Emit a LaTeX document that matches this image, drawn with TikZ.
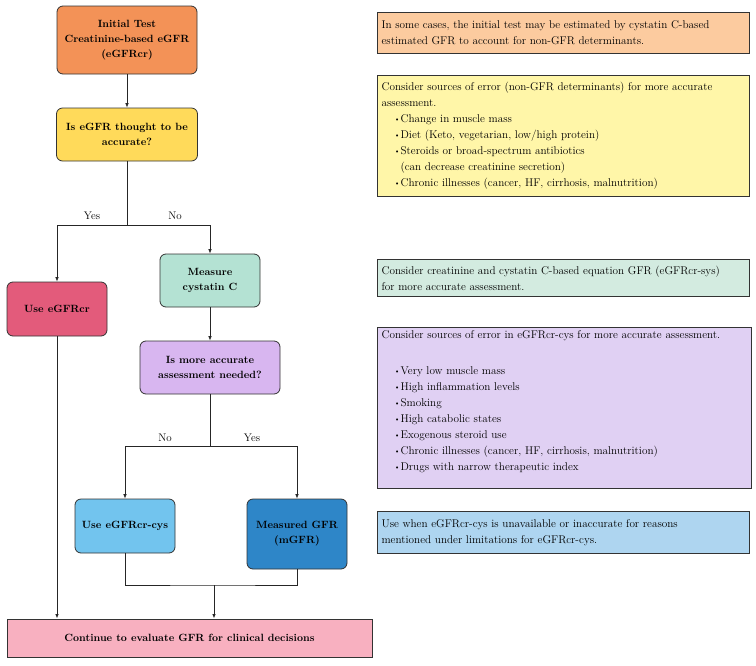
\documentclass[tikz,border=0pt]{standalone}
\usetikzlibrary{arrows.meta}
\definecolor{cInit}{HTML}{F39257}
\definecolor{cQ1}{HTML}{FFDA5A}
\definecolor{cUse}{HTML}{E35B7B}
\definecolor{cMeas}{HTML}{B4E2D3}
\definecolor{cQ2}{HTML}{D8B6F0}
\definecolor{cCys}{HTML}{72C4EE}
\definecolor{cMgfr}{HTML}{2E86C8}
\definecolor{cCont}{HTML}{F8B0C0}
\definecolor{nOr}{HTML}{FCCB9F}
\definecolor{nYe}{HTML}{FFF6A8}
\definecolor{nGr}{HTML}{D3EBE0}
\definecolor{nPu}{HTML}{E0D0F3}
\definecolor{nBl}{HTML}{AED5F0}
\definecolor{edge}{HTML}{333333}
\newcommand{\bul}{\hspace*{12.5pt}\makebox[6.5pt][l]{\raisebox{0.25ex}{\scriptsize\textbullet}}}
\newcommand{\contind}{\hspace*{19pt}}
\tikzset{
  fbox/.style={draw=edge, line width=0.8pt, rounded corners=6pt, align=center,
    font=\fontsize{10.5}{15}\selectfont\bfseries, inner sep=2pt},
  note/.style={draw=edge, line width=1.2pt, inner xsep=4pt, inner ysep=0pt,
    font=\fontsize{11.2}{16}\selectfont, anchor=north west},
  conn/.style={line width=0.8pt, draw=black!85},
  arr/.style={conn, -{Latex[length=4.5pt,width=3.6pt]}},
  lbl/.style={font=\fontsize{11}{12}\selectfont, inner sep=0pt}
}
\begin{document}
\begin{tikzpicture}[x=1pt,y=1pt]
\useasboundingbox (0,0) rectangle (756,-665);

% flowchart boxes
\node[fbox, fill=cInit, minimum width=140pt, minimum height=68pt] (init) at (127,-40)
  {Initial Test\\Creatinine-based eGFR\\(eGFRcr)};
\node[fbox, fill=cQ1, minimum width=141pt, minimum height=53pt] (q1) at (127,-134.5)
  {Is eGFR thought to be\\accurate?};
\node[fbox, fill=cUse, minimum width=100pt, minimum height=54pt] (use) at (57,-309)
  {Use eGFRcr};
\node[fbox, fill=cMeas, minimum width=100pt, minimum height=53pt] (meas) at (210,-280.5)
  {Measure\\cystatin C};
\node[fbox, fill=cQ2, minimum width=140pt, minimum height=53pt] (q2) at (210,-367.5)
  {Is more accurate\\assessment needed?};
\node[fbox, fill=cCys, minimum width=100pt, minimum height=54pt] (cys) at (125,-526)
  {Use eGFRcr-cys};
\node[fbox, fill=cMgfr, minimum width=100pt, minimum height=70pt] (mgfr) at (297,-534)
  {Measured GFR\\(mGFR)};
\node[fbox, rounded corners=0pt, line width=1pt, fill=cCont, minimum width=365pt, minimum height=38pt] (cont) at (189.5,-638)
  {Continue to evaluate GFR for clinical decisions};

% junctions
\coordinate (j1) at (127,-225);
\coordinate (j2) at (210,-446);
\coordinate (j3) at (214,-585);

% connectors
\draw[arr] (init.south) -- (q1.north);
\draw[conn] (q1.south) -- (j1);
\draw[arr] (j1) -| (use.north);
\draw[arr] (j1) -| (meas.north);
\draw[arr] (meas.south) -- (q2.north);
\draw[conn] (q2.south) -- (j2);
\draw[arr] (j2) -| (cys.north);
\draw[arr] (j2) -| (mgfr.north);
\draw[arr] (use.south) -- (use.south |- cont.north);
\draw[conn] (cys.south) |- (j3) -| (mgfr.south);
\draw[arr] (j3) -- (j3 |- cont.north);

% branch labels
\node[lbl] (yes1) at (92,-216) {Yes};
\node[lbl] (no1) at (175,-216) {No};
\node[lbl] (no2) at (165,-438) {No};
\node[lbl] (yes2) at (252,-438) {Yes};

% notes
\node[note, fill=nOr] (n1) at (377,-12)
  {\parbox[c][41pt][c]{364pt}{In some cases, the initial test may be estimated by cystatin C-based\\
  estimated GFR to account for non-GFR determinants.}};
\node[note, fill=nYe] (n2) at (377,-75)
  {\parbox[c][121pt][c]{364pt}{Consider sources of error (non-GFR determinants) for more accurate\\
  assessment.\\
  \bul Change in muscle mass\\
  \bul Diet (Keto, vegetarian, low/high protein)\\
  \bul Steroids or broad-spectrum antibiotics\\
  \contind (can decrease creatinine secretion)\\
  \bul Chronic illnesses (cancer, HF, cirrhosis, malnutrition)}};
\node[note, fill=nGr] (n3) at (377,-259)
  {\parbox[c][37pt][c]{364pt}{Consider creatinine and cystatin C-based equation GFR (eGFRcr-sys)\\
  for more accurate assessment.}};
\node[note, fill=nPu] (n4) at (377,-327)
  {\parbox[c][161pt][t]{366pt}{\rule{0pt}{11pt}Consider sources of error in eGFRcr-cys for more accurate assessment.\\[20pt]
  \bul Very low muscle mass\\
  \bul High inflammation levels\\
  \bul Smoking\\
  \bul High catabolic states\\
  \bul Exogenous steroid use\\
  \bul Chronic illnesses (cancer, HF, cirrhosis, malnutrition)\\
  \bul Drugs with narrow therapeutic index}};
\node[note, fill=nBl] (n5) at (377,-511)
  {\parbox[c][42pt][c]{364pt}{Use when eGFRcr-cys is unavailable or inaccurate for reasons\\
  mentioned under limitations for eGFRcr-cys.}};
\end{tikzpicture}
\end{document}
